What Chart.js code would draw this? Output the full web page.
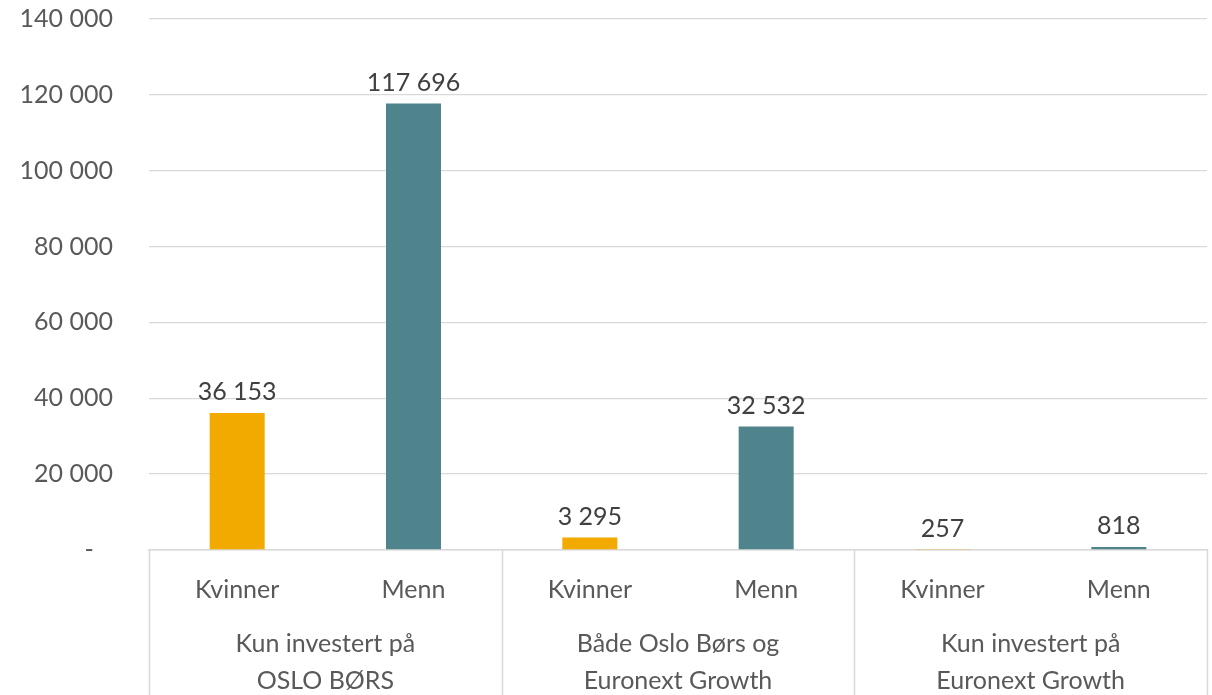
<!DOCTYPE html>
<html>
<head>
<meta charset="utf-8">
<script src="https://cdn.jsdelivr.net/npm/chart.js@4.4.1/dist/chart.umd.min.js"></script>
<style>
  html, body { margin: 0; padding: 0; background: #ffffff; }
  #wrap { width: 1212px; height: 695px; position: relative; }
</style>
</head>
<body>
<div id="wrap"><canvas id="c" width="1212" height="695"></canvas></div>
<script>
const categories = ["Kvinner", "Menn", "Kvinner", "Menn", "Kvinner", "Menn"];
const groups = [["Kun investert på", "OSLO BØRS"], ["Både Oslo Børs og", "Euronext Growth"], ["Kun investert på", "Euronext Growth"]];
const values = [36153, 117696, 3295, 32532, 257, 818];
const barColors = ["#F2A900", "#4F848C", "#F2A900", "#4F848C", "#F2A900", "#4F848C"];
const yTicks = [0, 20000, 40000, 60000, 80000, 100000, 120000, 140000];

const FONT = "Lato, 'Open Sans', sans-serif";
const fmt = v => String(v).replace(/\B(?=(\d{3})+(?!\d))/g, " ");

const extras = {
  id: 'extras',
  afterDraw(chart) {
    const ctx = chart.ctx;
    const x = chart.scales.x;
    const area = chart.chartArea;
    ctx.save();
    ctx.font = "25px " + FONT;
    ctx.fillStyle = "#404040";
    ctx.textAlign = "center";
    ctx.textBaseline = "bottom";
    const meta = chart.getDatasetMeta(0);
    meta.data.forEach((bar, i) => {
      ctx.fillText(fmt(values[i]), bar.x, bar.y - 8);
    });
    ctx.strokeStyle = "#d9d9d9";
    ctx.lineWidth = 1.5;
    const step = (x.getPixelForValue(1) - x.getPixelForValue(0));
    for (let g = 0; g <= groups.length; g++) {
      const px = Math.round(x.getPixelForValue(g * 2) - step / 2) + 0.5;
      ctx.beginPath();
      ctx.moveTo(px, area.bottom);
      ctx.lineTo(px, chart.height);
      ctx.stroke();
    }
    ctx.fillStyle = "#595959";
    ctx.textBaseline = "middle";
    groups.forEach((lines, g) => {
      const cx = (x.getPixelForValue(g * 2) + x.getPixelForValue(g * 2 + 1)) / 2;
      lines.forEach((t, k) => ctx.fillText(t, cx, area.bottom + 94 + k * 37));
    });
    ctx.restore();
  }
};

new Chart(document.getElementById('c'), {
  type: 'bar',
  data: {
    labels: categories,
    datasets: [{
      data: values,
      backgroundColor: barColors,
      barPercentage: 0.312,
      categoryPercentage: 1.0
    }]
  },
  options: {
    responsive: false,
    animation: false,
    layout: { padding: { left: 0, right: 5, top: 19, bottom: 0 } },
    plugins: { legend: { display: false }, tooltip: { enabled: false } },
    scales: {
      x: {
        grid: { display: false, drawTicks: false },
        border: { display: true, color: "#d9d9d9", width: 1.5 },
        ticks: { font: { family: FONT, size: 25 }, color: "#595959", padding: 25, maxRotation: 0 },
        afterFit(s) { s.height = 145; s.paddingLeft = 0; s.paddingRight = 0; }
      },
      y: {
        min: 0, max: 140000,
        afterBuildTicks(s) { s.ticks = yTicks.map(v => ({ value: v })); },
        grid: { color: "#d9d9d9", lineWidth: 1.3, drawTicks: false },
        border: { display: false },
        ticks: {
          font: { family: FONT, size: 25 }, color: "#595959", padding: 36,
          callback: v => v === 0 ? "-   " : fmt(v)
        },
        afterFit(s) { s.width = 149; s.paddingTop = 0; s.paddingBottom = 0; }
      }
    }
  },
  plugins: [extras]
});
</script>
</body>
</html>
